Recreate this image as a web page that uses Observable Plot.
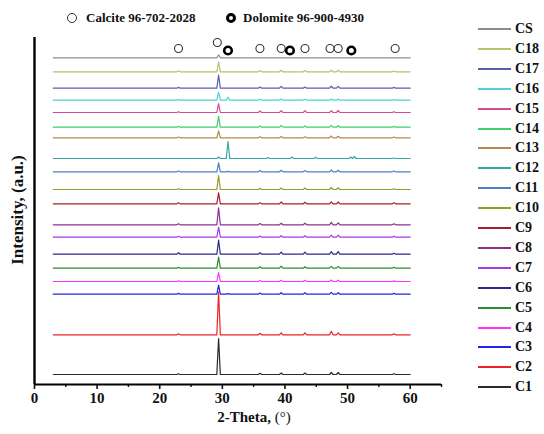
<!DOCTYPE html>
<html>
<head>
<meta charset="utf-8">
<script src="https://cdn.jsdelivr.net/npm/d3@7"></script>
<script src="https://cdn.jsdelivr.net/npm/@observablehq/plot@0.6"></script>
<style>
  html, body { margin: 0; padding: 0; background: #fff; }
  #wrap { position: relative; width: 544px; height: 434px; font-family: "Liberation Serif", "Times New Roman", serif; font-weight: bold; color: #111; }
  #wrap svg { position: absolute; left: 0; top: 0; }
  #wrap svg text { font-weight: bold; }
  .lg { position: absolute; font-size: 14px; line-height: 14px; white-space: nowrap; }
  .lgline { position: absolute; height: 0; border-top: 2px solid; }
  .toplg { position: absolute; font-size: 13px; line-height: 13px; white-space: nowrap; }
  .circ { position: absolute; border-radius: 50%; box-sizing: border-box; }
</style>
</head>
<body>
<div id="wrap"></div>
<script>
// Series names (bottom to top) and colours
const names = ["C1","C2","C3","C4","C5","C6","C7","C8","C9","C10","C11","C12","C13","C14","C15","C16","C17","C18","CS"];
const colors = ["#2b2b2b","#ee2222","#2222ee","#ff33ff","#2e8b2e","#2a2a8a","#a33ce6","#8e2f8e","#a81e2a","#9a9a2a","#4f7fbf","#38a6a6","#b8874e","#3fcf6f","#d44a9b","#4fd1d9","#5b5ea6","#b3c46a","#8c8c8c"];
// Vertical stacking offsets (a.u.)
const offsets = [10, 49.7, 90.3, 103, 116.3, 130.3, 147.3, 159.7, 180.7, 195, 212.7, 226, 246.7, 257.3, 272, 284.3, 296.3, 312.7, 326.7];
// Peak positions (2-theta, degrees)
const peakPos = [23.0, 29.4, 30.9, 36.0, 37.3, 39.4, 41.1, 43.2, 44.9, 47.4, 48.5, 50.5, 51.1, 57.4];
// Peak intensities per series (a.u.), same order as peakPos
const peaks = {
  C1:  [0.8, 36, 0,   1.2, 0, 1.5, 0,   1.5, 0,   2,   2,   0,   0, 0.8],
  C2:  [1,   43, 0,   1.5, 0, 2,   0,   2,   0,   3.5, 2,   0,   0, 1],
  C3:  [0.8, 9,  0.5, 1.2, 0, 1.5, 0,   1.5, 0,   1.8, 1.5, 0,   0, 0.8],
  C4:  [0.6, 9,  0,   1,   0, 1.2, 0,   1.2, 0,   1.5, 1.3, 0,   0, 0.6],
  C5:  [0.8, 11, 0,   1.5, 0, 2,   0,   1.5, 0,   1.8, 1.8, 0,   0, 1],
  C6:  [1.5, 14, 0,   1.5, 0, 2,   0,   2,   0,   2.5, 2.5, 0,   0, 1],
  C7:  [1,   10, 0,   1.2, 0, 1.5, 0,   1.5, 0,   2,   2,   0,   0, 1],
  C8:  [1,   17, 0,   1.2, 0, 1.5, 0,   1.5, 0,   2.5, 2,   0,   0, 1],
  C9:  [1,   11, 0,   1,   0, 1.8, 0,   1.5, 0,   2,   1.8, 0,   0, 1],
  C10: [0.8, 14, 0,   1.2, 0, 1.5, 0,   1.5, 0,   2,   1.8, 0,   0, 0.8],
  C11: [0.8, 9,  0.5, 1.2, 0, 1.5, 0,   1.2, 0,   1.8, 1.5, 0,   0, 0.8],
  C12: [0,   1.5,17,  0,   1, 0,   1.5, 0,   1.2, 0,   0,   1.5, 2, 0.5],
  C13: [0.8, 7,  0,   1,   0, 1.2, 0,   1,   0,   1.8, 1.5, 0,   0, 0.8],
  C14: [0.8, 11, 0,   1.2, 0, 1.8, 0,   1.2, 0,   1.8, 1.5, 0,   0, 0.8],
  C15: [0.8, 9,  0,   1.5, 0, 1.8, 0,   1.8, 0,   1.8, 2,   0,   0, 0.8],
  C16: [0.5, 8,  3,   1,   0, 1.2, 0,   1,   0,   1.2, 1.2, 0,   0, 0.6],
  C17: [0.8, 13, 0,   1.2, 0, 1.8, 0,   1.2, 0,   2,   1.8, 0,   0, 0.8],
  C18: [1,   10, 0,   1.2, 0, 1.5, 0,   1.2, 0,   1.5, 1.5, 0,   0, 0.8],
  CS:  [0,   3,  0,   0,   0, 0,   0,   0,   0,   0,   0,   0,   0, 0]
};
const scanStart = 3, scanEnd = 60;
// Reference markers
const calcitePos = [23.0, 29.2, 36.0, 39.4, 43.2, 47.2, 48.5, 57.6];
const calciteY   = [336, 342, 336, 336, 336, 336, 336, 336];
const dolomitePos = [30.9, 40.8, 50.6];
const dolomiteY   = [334, 334, 334];
const xTicks = [0, 10, 20, 30, 40, 50, 60];
const xMinor = [5, 15, 25, 35, 45, 55, 65];

// Build polyline rows
const rows = [];
names.forEach((n, i) => {
  const off = offsets[i];
  const hw = 0.28;
  rows.push({name: n, x: scanStart, y: off});
  peakPos.forEach((p, j) => {
    const h = peaks[n][j];
    if (h > 0) {
      rows.push({name: n, x: p - hw, y: off});
      rows.push({name: n, x: p, y: off + h});
      rows.push({name: n, x: p + hw, y: off});
    }
  });
  rows.push({name: n, x: scanEnd, y: off});
});
const calcite = calcitePos.map((x, i) => ({x, y: calciteY[i]}));
const dolomite = dolomitePos.map((x, i) => ({x, y: dolomiteY[i]}));

const chart = Plot.plot({
  width: 544, height: 434,
  marginLeft: 34, marginRight: 103, marginTop: 37, marginBottom: 50,
  style: {fontFamily: "Liberation Serif, serif", fontSize: "15px", fontWeight: "bold", color: "#111", background: "transparent"},
  x: {domain: [0, 65]},
  y: {domain: [0, 347], axis: null},
  color: {domain: names, range: colors},
  marks: [
    Plot.line(rows, {x: "x", y: "y", z: "name", stroke: "name", strokeWidth: 1.2}),
    Plot.dot(calcite, {x: "x", y: "y", r: 4, stroke: "#333", strokeWidth: 1.1, fill: "white"}),
    Plot.dot(dolomite, {x: "x", y: "y", r: 3.8, stroke: "#000", strokeWidth: 2.6, fill: "white"}),
    Plot.axisX({ticks: xTicks, tickSize: 5, tickPadding: 3, strokeWidth: 1.6, label: null, fontSize: 15, fontWeight: "bold"}),
    Plot.axisX({ticks: xMinor, tickSize: 3, strokeWidth: 1.4, text: null, label: null}),
    Plot.ruleY([0], {strokeWidth: 2.2, stroke: "#000"}),
    Plot.ruleX([0], {strokeWidth: 2.4, stroke: "#000"})
  ]
});
const wrap = document.getElementById("wrap");
wrap.appendChild(chart);

// Axis titles
const xl = document.createElement("div");
xl.className = "lg";
xl.style.cssText = "position:absolute;left:254px;top:410px;transform:translateX(-50%);font-size:15px;line-height:15px;";
xl.innerHTML = "2-Theta, <span style='font-weight:normal'>(°)</span>";
wrap.appendChild(xl);
const yl = document.createElement("div");
yl.className = "lg";
yl.style.cssText = "position:absolute;left:17px;top:210px;transform:translate(-50%,-50%) rotate(-90deg);font-size:17px;line-height:17px;";
yl.textContent = "Intensity, (a.u.)";
wrap.appendChild(yl);

// Right legend (top to bottom: CS ... C1)
names.slice().reverse().forEach((n, k) => {
  const i = names.indexOf(n);
  const cy = 29 + k * 19.9;
  const ln = document.createElement("div");
  ln.className = "lgline";
  ln.style.cssText += `left:478px;width:33px;top:${cy - 1}px;border-color:${colors[i]};`;
  wrap.appendChild(ln);
  const t = document.createElement("div");
  t.className = "lg";
  t.style.cssText += `left:515px;top:${cy - 7}px;`;
  t.textContent = n;
  wrap.appendChild(t);
});

// Top marker legend
const topItems = [
  {label: "Calcite 96-702-2028", cx: 72, bw: 1.3, tx: 86},
  {label: "Dolomite 96-900-4930", cx: 231, bw: 3, tx: 243}
];
topItems.forEach(it => {
  const c = document.createElement("div");
  c.className = "circ";
  c.style.cssText += `left:${it.cx - 5}px;top:${18 - 5}px;width:10px;height:10px;border:${it.bw}px solid ${it.bw > 2 ? "#000" : "#333"};`;
  wrap.appendChild(c);
  const t = document.createElement("div");
  t.className = "toplg";
  t.style.cssText += `left:${it.tx}px;top:${18 - 7}px;`;
  t.textContent = it.label;
  wrap.appendChild(t);
});
</script>
</body>
</html>
